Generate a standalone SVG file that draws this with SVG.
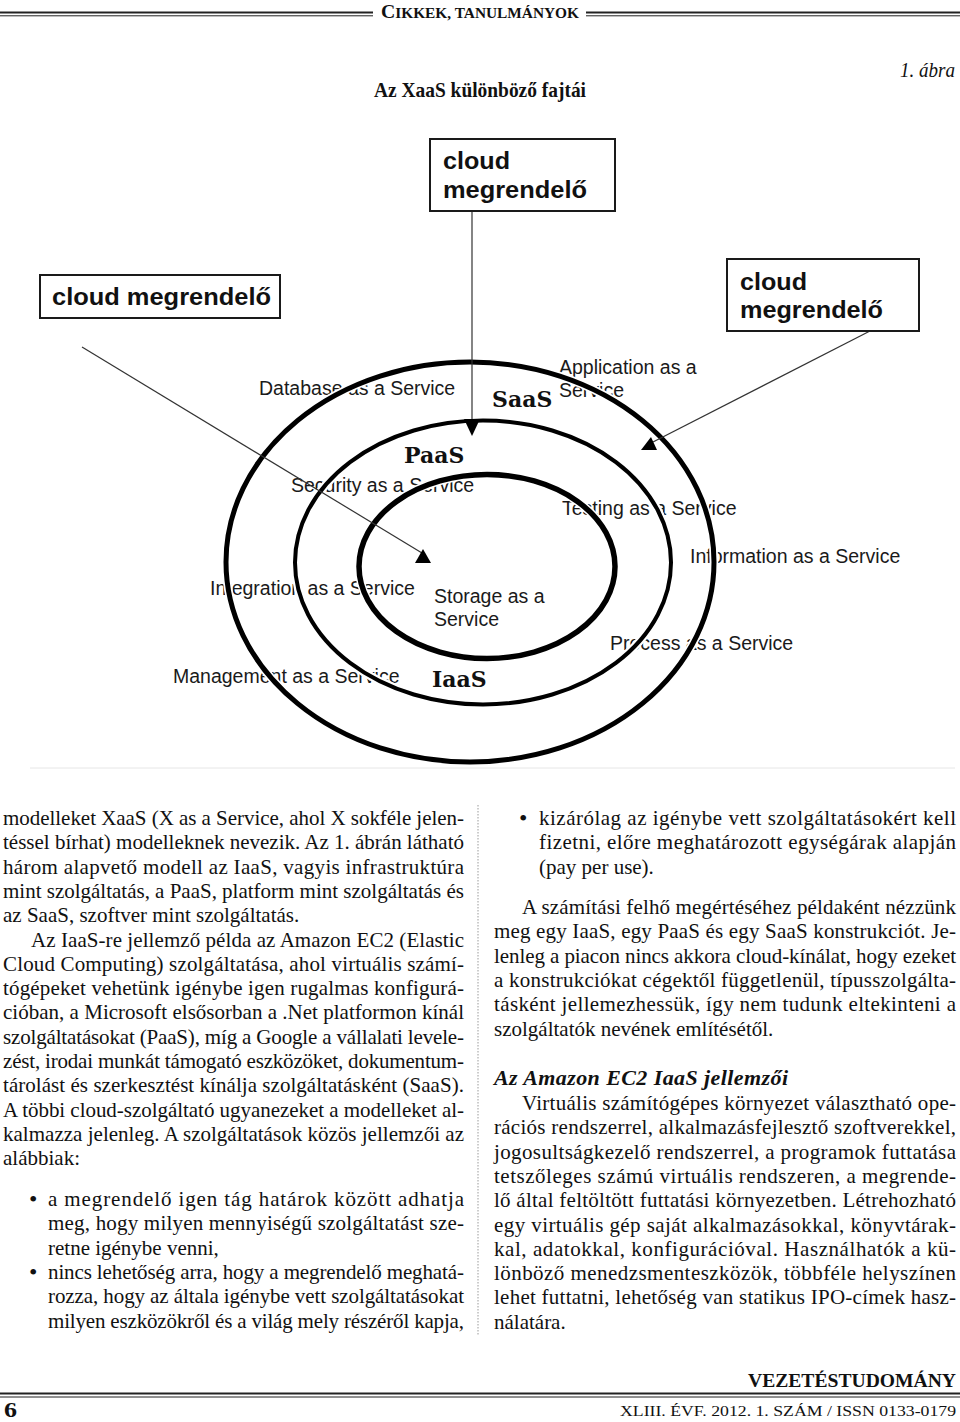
<svg xmlns="http://www.w3.org/2000/svg" width="960" height="1422" viewBox="0 0 960 1422">
<defs>
<style>
.lbl{font-family:"Liberation Sans",Arial,sans-serif;font-size:19.5px;fill:#1a1a1a}
.bx{fill:#fff;stroke:#1a1a1a;stroke-width:2}
.bxt{font-family:"Liberation Sans",Arial,sans-serif;font-weight:bold;font-size:23px;fill:#111}
.lay{font-family:"DejaVu Serif",serif;font-weight:bold;font-size:22px;fill:#111}
.halo{fill:none;stroke:#fff;stroke-width:8.5}
.ring{fill:none;stroke:#000}
.conn{stroke:#333;stroke-width:1.2;fill:none}
.body{font-family:"Liberation Serif","Times New Roman",serif;font-size:21px;fill:#111}
.bul{font-family:"Liberation Serif","Times New Roman",serif;font-size:24px;fill:#111}
.hd{font-family:"Liberation Serif","Times New Roman",serif;font-weight:bold;fill:#111}
.rule{stroke:#222}
</style>
</defs>
<rect width="960" height="1422" fill="#fff"/>

<!-- header -->
<g id="header">
<line class="rule" x1="0" y1="12.5" x2="373" y2="12.5" stroke-width="1.8"/>
<line class="rule" x1="0" y1="15.8" x2="373" y2="15.8" stroke-width="1"/>
<line class="rule" x1="586" y1="12.5" x2="960" y2="12.5" stroke-width="1.8"/>
<line class="rule" x1="586" y1="15.8" x2="960" y2="15.8" stroke-width="1"/>
<text class="hd" x="381" y="18" textLength="198" lengthAdjust="spacingAndGlyphs"><tspan font-size="18">C</tspan><tspan font-size="14">IKKEK, TANULMÁNYOK</tspan></text>
<text x="955" y="77" text-anchor="end" font-family="'Liberation Serif','Times New Roman',serif" font-style="italic" font-size="21" fill="#111" textLength="55" lengthAdjust="spacingAndGlyphs">1. ábra</text>
<text class="hd" x="480" y="97" text-anchor="middle" font-size="21" textLength="212" lengthAdjust="spacingAndGlyphs">Az XaaS különböző fajtái</text>
</g>

<!-- diagram labels -->
<g id="labels">
<text class="lbl" x="259" y="395">Database as a Service</text>
<text class="lbl" x="559" y="374">Application as a</text>
<text class="lbl" x="559" y="397">Service</text>
<text class="lbl" x="291" y="492">Security as a Service</text>
<text class="lbl" x="562" y="515">Testing as a Service</text>
<text class="lbl" x="690" y="563">Information as a Service</text>
<text class="lbl" x="210" y="595">Integration as a Service</text>
<text class="lbl" x="434" y="603">Storage as a</text>
<text class="lbl" x="434" y="626">Service</text>
<text class="lbl" x="610" y="650">Process as a Service</text>
<text class="lbl" x="173" y="683">Management as a Service</text>
</g>

<!-- layers -->
<g id="rings">
<ellipse class="halo" cx="470" cy="562" rx="244" ry="200"/>
<ellipse class="halo" cx="483" cy="562.5" rx="188" ry="142"/>
<ellipse class="halo" cx="487" cy="566.5" rx="128" ry="92"/>
<ellipse class="ring" cx="470" cy="562" rx="244" ry="200" stroke-width="5"/>
<ellipse class="ring" cx="483" cy="562.5" rx="188" ry="142" stroke-width="4"/>
<ellipse class="ring" cx="487" cy="566.5" rx="128" ry="92" stroke-width="5.5"/>
</g>
<g id="layer-names">
<text class="lay" x="492" y="407">SaaS</text>
<text class="lay" x="404" y="463">PaaS</text>
<text class="lay" x="432" y="687">IaaS</text>
</g>
<line x1="30" y1="768" x2="955" y2="768" stroke="#e6e6e6" stroke-width="1"/>

<!-- connectors -->
<g id="connectors">
<line class="conn" x1="472" y1="211" x2="472" y2="424"/>
<polygon points="464,419 480,419 472,436" fill="#000"/>
<line class="conn" x1="82" y1="347" x2="422" y2="553"/>
<polygon points="415,563 431,563 423,549" fill="#000"/>
<line class="conn" x1="870" y1="331" x2="653" y2="442"/>
<polygon points="641,450 657,450 651,437" fill="#000"/>
</g>

<!-- boxes -->
<g id="box-top">
<rect class="bx" x="430" y="139" width="185" height="72"/>
<text class="bxt" x="443" y="169" textLength="67" lengthAdjust="spacingAndGlyphs">cloud</text>
<text class="bxt" x="443" y="198" textLength="144" lengthAdjust="spacingAndGlyphs">megrendelő</text>
</g>
<g id="box-left">
<rect class="bx" x="40" y="275" width="240" height="43"/>
<text class="bxt" x="52" y="305" textLength="219" lengthAdjust="spacingAndGlyphs">cloud megrendelő</text>
</g>
<g id="box-right">
<rect class="bx" x="727" y="259" width="192" height="72"/>
<text class="bxt" x="740" y="290" textLength="67" lengthAdjust="spacingAndGlyphs">cloud</text>
<text class="bxt" x="740" y="318" textLength="143" lengthAdjust="spacingAndGlyphs">megrendelő</text>
</g>

<!-- left column -->
<g id="text-left" class="body">
<text x="3" y="825" textLength="461" lengthAdjust="spacing">modelleket XaaS (X as a Service, ahol X sokféle jelen-</text>
<text x="3" y="849.3" textLength="461" lengthAdjust="spacing">téssel bírhat) modelleknek nevezik. Az 1. ábrán látható</text>
<text x="3" y="873.6" textLength="461" lengthAdjust="spacing">három alapvető modell az IaaS, vagyis infrastruktúra</text>
<text x="3" y="897.9" textLength="461" lengthAdjust="spacing">mint szolgáltatás, a PaaS, platform mint szolgáltatás és</text>
<text x="3" y="922.2">az SaaS, szoftver mint szolgáltatás.</text>
<text x="31" y="946.5" textLength="433" lengthAdjust="spacing">Az IaaS-re jellemző példa az Amazon EC2 (Elastic</text>
<text x="3" y="970.8" textLength="461" lengthAdjust="spacing">Cloud Computing) szolgáltatása, ahol virtuális számí-</text>
<text x="3" y="995.1" textLength="461" lengthAdjust="spacing">tógépeket vehetünk igénybe igen rugalmas konfigurá-</text>
<text x="3" y="1019.4" textLength="461" lengthAdjust="spacing">cióban, a Microsoft elsősorban a .Net platformon kínál</text>
<text x="3" y="1043.7" textLength="461" lengthAdjust="spacing">szolgáltatásokat (PaaS), míg a Google a vállalati levele-</text>
<text x="3" y="1068" textLength="461" lengthAdjust="spacing">zést, irodai munkát támogató eszközöket, dokumentum-</text>
<text x="3" y="1092.3" textLength="461" lengthAdjust="spacing">tárolást és szerkesztést kínálja szolgáltatásként (SaaS).</text>
<text x="3" y="1116.6" textLength="461" lengthAdjust="spacing">A többi cloud-szolgáltató ugyanezeket a modelleket al-</text>
<text x="3" y="1140.9" textLength="461" lengthAdjust="spacing">kalmazza jelenleg. A szolgáltatások közös jellemzői az</text>
<text x="3" y="1165.2">alábbiak:</text>
<text class="bul" x="29" y="1207">•</text>
<text x="48" y="1206" textLength="416" lengthAdjust="spacing">a megrendelő igen tág határok között adhatja</text>
<text x="48" y="1230.3" textLength="416" lengthAdjust="spacing">meg, hogy milyen mennyiségű szolgáltatást sze-</text>
<text x="48" y="1254.6">retne igénybe venni,</text>
<text class="bul" x="29" y="1280">•</text>
<text x="48" y="1278.9" textLength="416" lengthAdjust="spacing">nincs lehetőség arra, hogy a megrendelő meghatá-</text>
<text x="48" y="1303.2" textLength="416" lengthAdjust="spacing">rozza, hogy az általa igénybe vett szolgáltatásokat</text>
<text x="48" y="1327.5" textLength="416" lengthAdjust="spacing">milyen eszközökről és a világ mely részéről kapja,</text>
</g>

<line x1="478" y1="805" x2="478" y2="1335" stroke="#9a9a9a" stroke-width="1" stroke-dasharray="1.5 1.5"/>

<!-- right column -->
<g id="text-right" class="body">
<text class="bul" x="519" y="826">•</text>
<text x="539" y="825" textLength="417" lengthAdjust="spacing">kizárólag az igénybe vett szolgáltatásokért kell</text>
<text x="539" y="849.3" textLength="417" lengthAdjust="spacing">fizetni, előre meghatározott egységárak alapján</text>
<text x="539" y="873.6">(pay per use).</text>
<text x="522" y="914" textLength="434" lengthAdjust="spacing">A számítási felhő megértéséhez példaként nézzünk</text>
<text x="494" y="938.3" textLength="462" lengthAdjust="spacing">meg egy IaaS, egy PaaS és egy SaaS konstrukciót. Je-</text>
<text x="494" y="962.6" textLength="462" lengthAdjust="spacing">lenleg a piacon nincs akkora cloud-kínálat, hogy ezeket</text>
<text x="494" y="986.9" textLength="462" lengthAdjust="spacing">a konstrukciókat cégektől függetlenül, típusszolgálta-</text>
<text x="494" y="1011.2" textLength="462" lengthAdjust="spacing">tásként jellemezhessük, így nem tudunk eltekinteni a</text>
<text x="494" y="1035.5">szolgáltatók nevének említésétől.</text>
<text x="494" y="1085" font-weight="bold" font-style="italic" font-size="22" textLength="294" lengthAdjust="spacing">Az Amazon EC2 IaaS jellemzői</text>
<text x="522" y="1110" textLength="434" lengthAdjust="spacing">Virtuális számítógépes környezet választható ope-</text>
<text x="494" y="1134.3" textLength="462" lengthAdjust="spacing">rációs rendszerrel, alkalmazásfejlesztő szoftverekkel,</text>
<text x="494" y="1158.6" textLength="462" lengthAdjust="spacing">jogosultságkezelő rendszerrel, a programok futtatása</text>
<text x="494" y="1182.9" textLength="462" lengthAdjust="spacing">tetszőleges számú virtuális rendszeren, a megrende-</text>
<text x="494" y="1207.2" textLength="462" lengthAdjust="spacing">lő által feltöltött futtatási környezetben. Létrehozható</text>
<text x="494" y="1231.5" textLength="462" lengthAdjust="spacing">egy virtuális gép saját alkalmazásokkal, könyvtárak-</text>
<text x="494" y="1255.8" textLength="462" lengthAdjust="spacing">kal, adatokkal, konfigurációval. Használhatók a kü-</text>
<text x="494" y="1280.1" textLength="462" lengthAdjust="spacing">lönböző menedzsmenteszközök, többféle helyszínen</text>
<text x="494" y="1304.4" textLength="462" lengthAdjust="spacing">lehet futtatni, lehetőség van statikus IPO-címek hasz-</text>
<text x="494" y="1328.7">nálatára.</text>
</g>

<!-- footer -->
<g id="footer">
<text class="hd" x="956" y="1387" text-anchor="end" font-size="18" textLength="208" lengthAdjust="spacingAndGlyphs">VEZETÉSTUDOMÁNY</text>
<line class="rule" x1="0" y1="1393.5" x2="960" y2="1393.5" stroke-width="2"/>
<line class="rule" x1="0" y1="1397" x2="960" y2="1397" stroke-width="1"/>
<text class="hd" x="4" y="1417" font-size="22" textLength="13" lengthAdjust="spacingAndGlyphs">6</text>
<text x="956" y="1416" text-anchor="end" font-family="'Liberation Serif','Times New Roman',serif" font-size="15" fill="#111" textLength="336" lengthAdjust="spacingAndGlyphs">XLIII. ÉVF. 2012. 1. SZÁM / ISSN 0133-0179</text>
</g>
</svg>
